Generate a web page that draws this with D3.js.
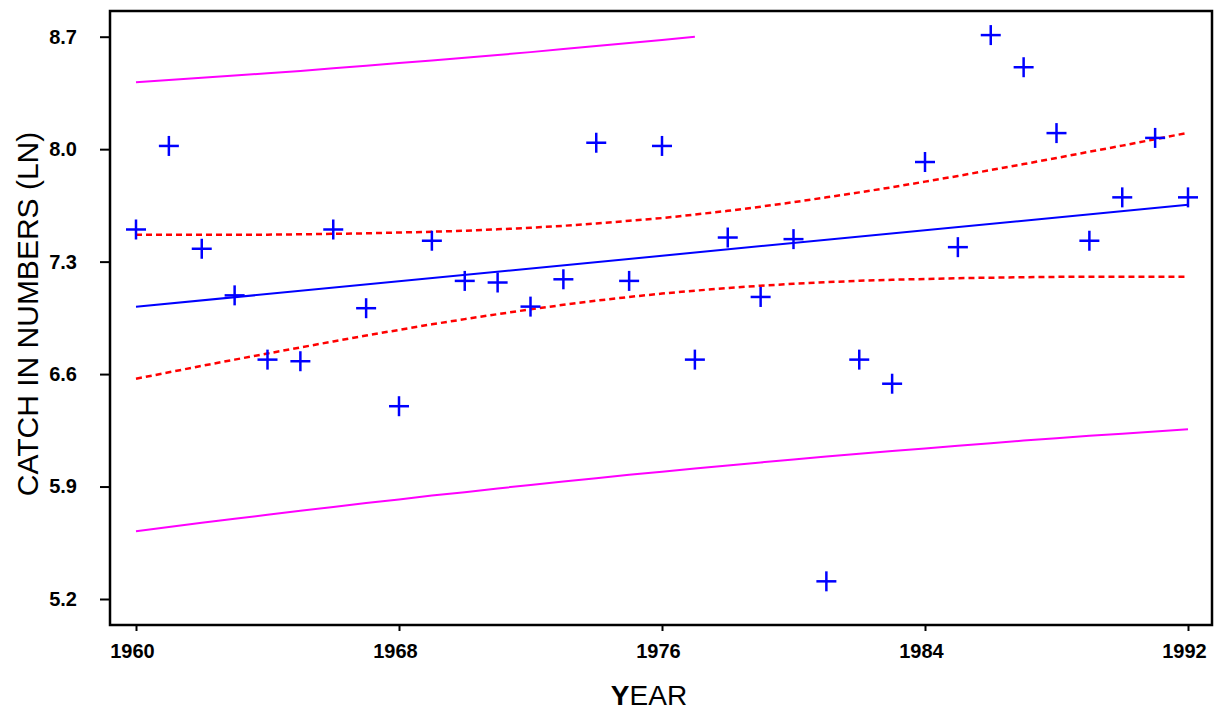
<!DOCTYPE html>
<html>
<head>
<meta charset="utf-8">
<script src="https://cdn.jsdelivr.net/npm/d3@7"></script>
<style>
  html, body { margin: 0; padding: 0; background: #ffffff; }
  svg { display: block; }
</style>
</head>
<body>
<svg id="chart" width="1214" height="712"></svg>
<script>
// ---------------- DATA ----------------
const years = [1960,1961,1962,1963,1964,1965,1966,1967,1968,1969,1970,1971,1972,1973,1974,1975,1976,
               1977,1978,1979,1980,1981,1982,1983,1984,1985,1986,1987,1988,1989,1990,1991,1992];

const catchLn = [7.50,8.02,7.38,7.09,6.69,6.68,7.50,7.01,6.40,7.43,7.18,7.17,7.02,7.19,8.04,7.18,8.02,
                 6.69,7.45,7.08,7.44,5.31,6.69,6.54,7.92,7.39,8.71,8.51,8.10,7.43,7.70,8.07,7.70];

const regYears = [1960, 1992];
const regValues = [7.019, 7.654];

const ciUpper = [7.467,7.467,7.467,7.468,7.468,7.470,7.473,7.476,7.481,7.486,7.492,7.501,7.511,7.523,7.537,7.554,7.571,
                 7.593,7.616,7.642,7.670,7.700,7.731,7.763,7.798,7.833,7.870,7.907,7.945,7.984,8.022,8.062,8.102];
const ciLower = [6.571,6.611,6.651,6.690,6.728,6.766,6.803,6.840,6.875,6.910,6.942,6.973,7.003,7.031,7.057,7.080,7.101,
                 7.119,7.136,7.150,7.162,7.172,7.181,7.187,7.192,7.197,7.200,7.203,7.205,7.206,7.206,7.206,7.206];

const piUpperYears = [1960,1961,1962,1963,1964,1965,1966,1967,1968,1969,1970,1971,1972,1973,1974,1975,1976,1977];
const piUpper = [8.416,8.430,8.444,8.458,8.472,8.487,8.503,8.519,8.536,8.552,8.569,8.586,8.604,8.623,8.642,8.661,8.680,8.700];
const piLower = [5.622,5.648,5.674,5.700,5.724,5.749,5.773,5.797,5.820,5.844,5.865,5.888,5.910,5.931,5.952,5.973,5.992,
                 6.012,6.031,6.050,6.069,6.087,6.104,6.121,6.137,6.154,6.170,6.186,6.201,6.216,6.229,6.243,6.257];

const xTickValues = [1960, 1968, 1976, 1984, 1992];
const yTickValues = [5.2, 5.9, 6.6, 7.3, 8.0, 8.7];

const xTitle = "YEAR";
const yTitle = "CATCH IN NUMBERS (LN)";

// ---------------- LAYOUT ----------------
const box = { left: 110, top: 11, right: 1212, bottom: 625 };
const svg = d3.select("#chart");

const x = d3.scaleLinear().domain([1960, 1992]).range([136, 1188]);
const y = d3.scaleLinear().domain([5.2, 8.7]).range([599, 36.7]);

const fontFam = "'Liberation Sans', Arial, Helvetica, sans-serif";

// plot box
svg.append("rect")
  .attr("x", box.left).attr("y", box.top)
  .attr("width", box.right - box.left).attr("height", box.bottom - box.top)
  .attr("fill", "none").attr("stroke", "#000").attr("stroke-width", 2.5);

// axes
const yAxis = d3.axisLeft(y).tickValues(yTickValues).tickFormat(d3.format(".1f"))
  .tickSize(10).tickPadding(23);
const gy = svg.append("g").attr("transform", `translate(${box.left},0)`).call(yAxis);
gy.select(".domain").remove();
gy.selectAll(".tick line").attr("stroke", "#000").attr("stroke-width", 2);
gy.selectAll(".tick text")
  .attr("font-family", fontFam).attr("font-size", 20).attr("font-weight", "bold").attr("fill", "#000");

const xAxis = d3.axisBottom(x).tickValues(xTickValues).tickFormat(d3.format("d"))
  .tickSize(6).tickPadding(13);
const gx = svg.append("g").attr("transform", `translate(0,${box.bottom})`).call(xAxis);
gx.select(".domain").remove();
gx.selectAll(".tick line").attr("stroke", "#000").attr("stroke-width", 2);
gx.selectAll(".tick text")
  .attr("x", -4)
  .attr("font-family", fontFam).attr("font-size", 20).attr("font-weight", "bold").attr("fill", "#000");

// axis titles
const xt = svg.append("text")
  .attr("x", 649).attr("y", 705)
  .attr("text-anchor", "middle")
  .attr("font-family", fontFam).attr("font-size", 28).attr("fill", "#000");
xt.append("tspan").attr("font-weight", "bold").text(xTitle.slice(0, 1));
xt.append("tspan").text(xTitle.slice(1));

svg.append("text")
  .attr("transform", "translate(38,314) rotate(-90)")
  .attr("text-anchor", "middle")
  .attr("font-family", fontFam).attr("font-size", 30).attr("fill", "#000")
  .text(yTitle);

// ---------------- MARKS ----------------
const line = d3.line().x(d => x(d[0])).y(d => y(d[1]));

// prediction band (magenta)
svg.append("path")
  .datum(piUpperYears.map((yr, i) => [yr, piUpper[i]]))
  .attr("d", line).attr("fill", "none").attr("stroke", "#ff00ff").attr("stroke-width", 2);
svg.append("path")
  .datum(years.map((yr, i) => [yr, piLower[i]]))
  .attr("d", line).attr("fill", "none").attr("stroke", "#ff00ff").attr("stroke-width", 2);

// confidence band (red dashed)
[ciUpper, ciLower].forEach(arr => {
  svg.append("path")
    .datum(years.map((yr, i) => [yr, arr[i]]))
    .attr("d", line).attr("fill", "none").attr("stroke", "#ff0000")
    .attr("stroke-width", 2.5).attr("stroke-dasharray", "6,4");
});

// regression line
svg.append("path")
  .datum(regYears.map((yr, i) => [yr, regValues[i]]))
  .attr("d", line).attr("fill", "none").attr("stroke", "#0000ff").attr("stroke-width", 2);

// observations: crosses
const cs = 10;
const crosses = svg.append("g").selectAll("g.pt")
  .data(years.map((yr, i) => ({ yr, v: catchLn[i] })))
  .join("g").attr("class", "pt")
  .attr("transform", d => `translate(${x(d.yr)},${y(d.v)})`);
crosses.append("line").attr("x1", -cs).attr("x2", cs).attr("y1", 0).attr("y2", 0)
  .attr("stroke", "#0000ff").attr("stroke-width", 2.5);
crosses.append("line").attr("x1", 0).attr("x2", 0).attr("y1", -cs).attr("y2", cs)
  .attr("stroke", "#0000ff").attr("stroke-width", 2.5);
</script>
</body>
</html>
